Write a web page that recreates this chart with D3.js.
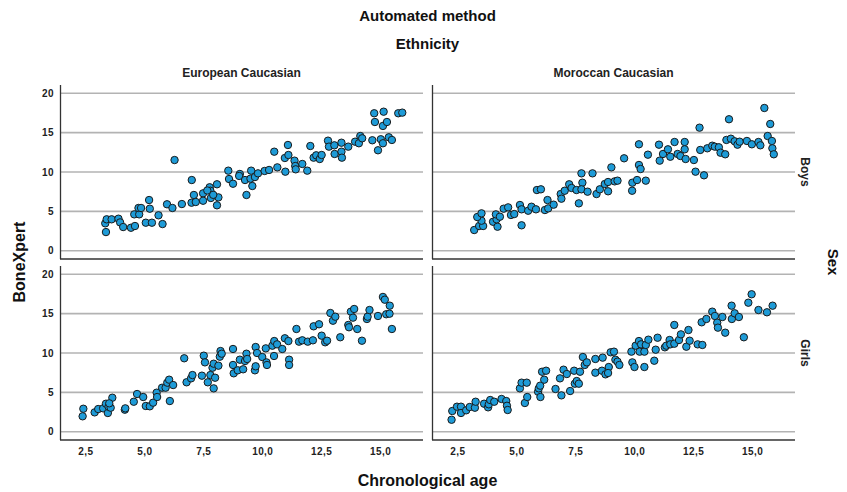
<!DOCTYPE html>
<html><head><meta charset="utf-8">
<script src="https://cdn.jsdelivr.net/npm/d3@7"></script>
<style>body{margin:0;background:#fff}svg text{font-family:"Liberation Sans",Arial,sans-serif}</style>
</head><body><svg id="c" width="847" height="492"></svg>
<script>
const ethnicities = ["European Caucasian", "Moroccan Caucasian"];
const sexes = ["Boys", "Girls"];
const xTicks = [2.5, 5, 7.5, 10, 12.5, 15];
const yTicks = [0, 5, 10, 15, 20];

const euBoys = [[3.35,2.37],[3.32,3.48],[3.38,3.99],[3.59,3.99],[3.88,4.07],[3.95,3.6],[4.08,3.01],[4.41,2.92],[4.58,3.14],[4.55,4.62],[4.76,4.62],[4.73,5.43],[4.84,5.43],[5.04,3.56],[5.3,3.56],[5.21,5.34],[5.18,6.44],[5.58,4.5],[5.75,3.39],[5.94,5.9],[6.17,5.43],[6.26,11.52],[6.57,5.93],[6.99,8.98],[6.98,6.1],[7.08,7.08],[7.16,6.19],[7.47,7.29],[7.47,6.35],[7.75,8.06],[7.78,7.62],[7.65,7.65],[7.8,6.7],[8.06,8.44],[8.12,6.78],[8.06,5.77],[7.9,7.1],[8.54,10.17],[8.57,9.11],[8.74,8.51],[9.03,9.75],[9.0,9.5],[9.25,8.98],[9.31,7.08],[9.51,10.17],[9.48,9.15],[9.56,8.22],[9.67,9.36],[9.8,9.83],[10.08,10.13],[10.27,10.26],[10.49,12.58],[10.62,10.59],[10.94,11.78],[11.07,13.43],[11.09,12.16],[10.96,10.04],[11.35,11.44],[11.38,10.76],[11.4,10.34],[11.68,11.02],[11.89,10.17],[12.02,13.3],[12.16,11.82],[12.27,12.12],[12.42,11.65],[12.5,12.16],[12.77,13.98],[12.81,13.22],[13.04,13.39],[13.05,12.29],[13.34,13.72],[13.34,12.58],[13.36,11.82],[13.63,13.22],[13.92,13.85],[14.08,13.65],[14.14,14.57],[14.22,14.28],[14.65,14.03],[14.73,17.46],[14.76,16.35],[15.13,17.66],[15.1,15.85],[15.27,16.35],[14.89,12.76],[15.01,14.16],[15.1,13.65],[15.35,14.41],[15.48,14.07],[15.75,17.46],[15.92,17.54]];

const moBoys = [[3.19,2.63],[3.4,3.14],[3.57,3.14],[3.5,3.81],[3.32,4.28],[3.5,4.75],[3.99,3.68],[4.18,3.05],[4.14,3.99],[4.11,4.62],[4.28,4.32],[4.44,5.34],[4.63,5.51],[4.75,4.54],[4.89,4.66],[5.13,5.81],[5.2,5.26],[5.2,3.23],[5.48,5.08],[5.62,5.59],[5.81,5.26],[5.85,7.71],[6.02,7.8],[6.19,5.17],[6.3,6.44],[6.33,5.38],[6.56,5.85],[6.86,7.2],[6.89,6.61],[7.03,7.62],[7.22,8.44],[7.32,7.97],[7.53,7.71],[7.63,6.02],[7.74,9.83],[7.78,8.64],[7.74,7.8],[8.0,7.5],[8.21,9.83],[8.38,7.2],[8.52,7.8],[8.73,8.47],[8.87,8.73],[8.87,7.55],[9.01,10.59],[9.15,8.81],[9.27,8.9],[9.55,11.74],[9.89,7.62],[9.9,8.64],[10.1,8.98],[10.18,13.52],[10.18,10.89],[10.25,10.38],[10.47,8.9],[10.56,12.2],[11.03,13.47],[11.06,11.44],[11.2,12.29],[11.41,12.88],[11.51,11.94],[11.69,13.81],[11.82,12.29],[11.94,12.03],[12.12,13.81],[12.12,12.88],[12.16,11.65],[12.51,11.52],[12.58,10.04],[12.75,15.63],[12.78,12.8],[12.94,9.58],[13.08,13.01],[13.29,13.34],[13.4,13.22],[13.57,13.14],[13.64,12.45],[13.84,12.25],[13.89,14.07],[14.0,16.7],[14.08,14.23],[14.24,13.9],[14.36,13.47],[14.45,13.85],[14.76,13.94],[14.97,13.52],[15.25,13.81],[15.33,13.39],[15.5,18.13],[15.64,14.57],[15.75,16.1],[15.82,13.94],[15.84,13.01],[15.9,12.25]];

const euGirls = [[2.36,1.96],[2.39,2.92],[2.87,2.46],[3.02,2.88],[3.23,2.97],[3.35,3.56],[3.43,2.38],[3.46,3.18],[3.55,3.05],[3.62,4.32],[3.49,3.61],[4.15,2.8],[4.17,2.97],[4.53,3.81],[4.67,4.79],[4.93,4.41],[5.04,3.27],[5.21,3.23],[5.35,3.69],[5.5,4.96],[5.52,4.41],[5.73,5.59],[5.88,5.59],[5.95,6.23],[6.03,6.61],[6.2,5.93],[6.06,3.9],[6.67,9.33],[6.77,6.28],[6.96,6.78],[7.02,7.2],[7.42,7.12],[7.5,9.66],[7.55,8.81],[7.67,6.28],[7.78,7.2],[7.87,8.13],[7.92,8.64],[7.92,5.51],[7.98,6.86],[8.12,8.39],[8.18,9.53],[8.21,10.25],[8.26,9.91],[8.74,10.51],[8.74,8.48],[8.77,7.42],[8.94,7.8],[9.03,9.15],[9.17,7.93],[9.25,8.98],[9.31,9.91],[9.34,9.24],[9.67,7.8],[9.7,10.76],[9.76,10.0],[9.7,8.31],[9.98,9.49],[10.13,10.59],[10.16,8.81],[10.18,8.48],[10.41,10.93],[10.48,9.62],[10.49,11.52],[10.61,11.1],[10.83,10.51],[10.94,11.87],[11.09,11.52],[11.12,9.15],[11.12,8.48],[11.43,13.05],[11.54,11.44],[11.68,11.61],[11.91,11.44],[12.13,11.61],[12.16,13.39],[12.39,13.65],[12.5,12.2],[12.65,11.36],[12.73,11.56],[12.87,15.08],[12.98,14.1],[13.08,14.61],[13.29,12.0],[13.63,13.56],[13.66,13.27],[13.74,15.25],[13.88,15.59],[13.83,14.49],[14.01,13.05],[14.21,11.56],[14.42,14.32],[14.45,14.61],[14.53,15.46],[14.89,14.7],[15.1,17.12],[15.18,16.77],[15.24,14.92],[15.38,14.99],[15.39,16.01],[15.48,13.05]];

const moGirls = [[2.23,1.52],[2.26,2.63],[2.46,3.18],[2.63,3.18],[2.63,2.38],[2.85,2.72],[3.0,3.14],[3.22,3.05],[3.25,3.81],[3.61,3.56],[3.78,3.1],[3.81,3.48],[3.87,4.03],[4.04,3.81],[4.35,4.16],[4.55,3.9],[4.58,3.3],[4.61,2.76],[5.13,5.51],[5.2,6.23],[5.42,6.23],[5.34,3.65],[5.44,4.41],[5.9,5.08],[5.93,5.51],[5.99,5.85],[6.0,4.41],[6.16,6.61],[6.07,7.62],[6.24,7.75],[6.64,5.43],[6.89,4.62],[6.83,6.78],[6.98,7.88],[7.12,7.33],[7.26,5.17],[7.43,7.75],[7.46,6.1],[7.54,6.44],[7.63,6.1],[7.68,7.62],[7.8,9.49],[7.88,8.48],[7.97,8.81],[8.33,9.24],[8.33,7.5],[8.61,7.75],[8.64,9.41],[8.76,7.29],[8.9,8.22],[8.87,7.46],[8.98,10.09],[9.12,10.17],[9.18,9.15],[9.27,8.9],[9.35,8.48],[9.86,10.17],[9.9,8.81],[9.99,8.22],[10.04,10.93],[10.18,11.52],[10.21,10.17],[10.27,11.1],[10.41,10.17],[10.41,8.22],[10.47,11.02],[10.58,11.69],[10.83,9.02],[10.89,10.42],[10.97,11.94],[11.28,10.72],[11.34,10.93],[11.48,11.65],[11.51,11.1],[11.68,13.56],[11.68,11.18],[11.88,11.65],[11.96,12.37],[12.19,10.8],[12.28,12.92],[12.33,11.56],[12.67,11.1],[12.87,11.02],[12.84,13.9],[13.04,14.32],[13.29,15.25],[13.4,14.7],[13.5,13.85],[13.53,13.22],[13.72,14.57],[13.84,12.58],[14.11,16.01],[14.12,14.32],[14.24,15.04],[14.42,14.57],[14.63,12.0],[14.82,16.39],[14.96,17.46],[15.25,15.46],[15.61,15.17],[15.85,16.01]];

const panels = [
  {col:0,row:0,data:euBoys},{col:1,row:0,data:moBoys},
  {col:0,row:1,data:euGirls},{col:1,row:1,data:moGirls}
];

const svg = d3.select("#c");
const pw = 363, ph = 174;
const colX = [60, 432], rowY = [85, 266];
const x = d3.scaleLinear().domain([1.4, 16.8]).range([0, pw]);
const y = d3.scaleLinear().domain([-1.05, 21.05]).range([ph, 0]);
const fmt = d => d3.format(".1f")(d).replace(".", ",");

panels.forEach(p => {
  const g = svg.append("g").attr("transform", `translate(${colX[p.col]},${rowY[p.row]})`);
  // gridlines
  g.selectAll("line.grid").data(yTicks).join("line")
    .attr("x1", 0).attr("x2", pw).attr("y1", d => y(d)).attr("y2", d => y(d))
    .attr("stroke", "#b3b3b3").attr("stroke-width", 1.6);
  // axes frame
  g.append("line").attr("x1", 0.5).attr("x2", 0.5).attr("y1", 0).attr("y2", ph).attr("stroke", "#333").attr("stroke-width", 1.3);
  g.append("line").attr("x1", 0).attr("x2", pw).attr("y1", ph).attr("y2", ph).attr("stroke", "#333").attr("stroke-width", 1.5);
  if (p.col === 0) {
    g.selectAll("text.yt").data(yTicks).join("text")
      .attr("x", -6).attr("y", d => y(d)).attr("dy", "0.35em")
      .attr("text-anchor", "end").attr("font-size", 10).attr("font-weight", "bold")
      .attr("letter-spacing", "0.5px").attr("fill", "#222").text(d => d);
  }
  if (p.row === 1) {
    g.selectAll("text.xt").data(xTicks).join("text")
      .attr("x", d => x(d)).attr("y", ph + 15)
      .attr("text-anchor", "middle").attr("font-size", 10).attr("font-weight", "bold")
      .attr("letter-spacing", "0.4px").attr("fill", "#222").text(fmt);
  }
  g.selectAll("circle").data(p.data).join("circle")
    .attr("cx", d => x(d[0])).attr("cy", d => y(d[1])).attr("r", 3.7)
    .attr("fill", "#1e9bd7").attr("stroke", "#1a1a1a").attr("stroke-width", 1);
});

// titles
const cx = (colX[0] + colX[1] + pw) / 2;
svg.append("text").attr("x", cx).attr("y", 21).attr("text-anchor", "middle").attr("font-size", 15).attr("font-weight", "bold").attr("fill", "#111").text("Automated method");
svg.append("text").attr("x", cx).attr("y", 49).attr("text-anchor", "middle").attr("font-size", 15).attr("font-weight", "bold").attr("fill", "#111").text("Ethnicity");
ethnicities.forEach((e, i) => {
  svg.append("text").attr("x", colX[i] + pw / 2).attr("y", 77).attr("text-anchor", "middle")
    .attr("font-size", 12).attr("font-weight", "bold").attr("fill", "#222").text(e);
});
sexes.forEach((s, i) => {
  const yy = rowY[i] + ph / 2;
  svg.append("text").attr("transform", `translate(801,${yy}) rotate(90)`).attr("text-anchor", "middle")
    .attr("font-size", 12).attr("font-weight", "bold").attr("fill", "#222").text(s);
});
svg.append("text").attr("transform", `translate(828,262) rotate(90)`).attr("text-anchor", "middle")
  .attr("font-size", 15).attr("font-weight", "bold").attr("fill", "#111").text("Sex");
svg.append("text").attr("transform", `translate(25,262) rotate(-90)`).attr("text-anchor", "middle")
  .attr("font-size", 16).attr("font-weight", "bold").attr("fill", "#111").text("BoneXpert");
svg.append("text").attr("x", cx).attr("y", 486).attr("text-anchor", "middle")
  .attr("font-size", 16).attr("font-weight", "bold").attr("fill", "#111").text("Chronological age");
</script></body></html>
